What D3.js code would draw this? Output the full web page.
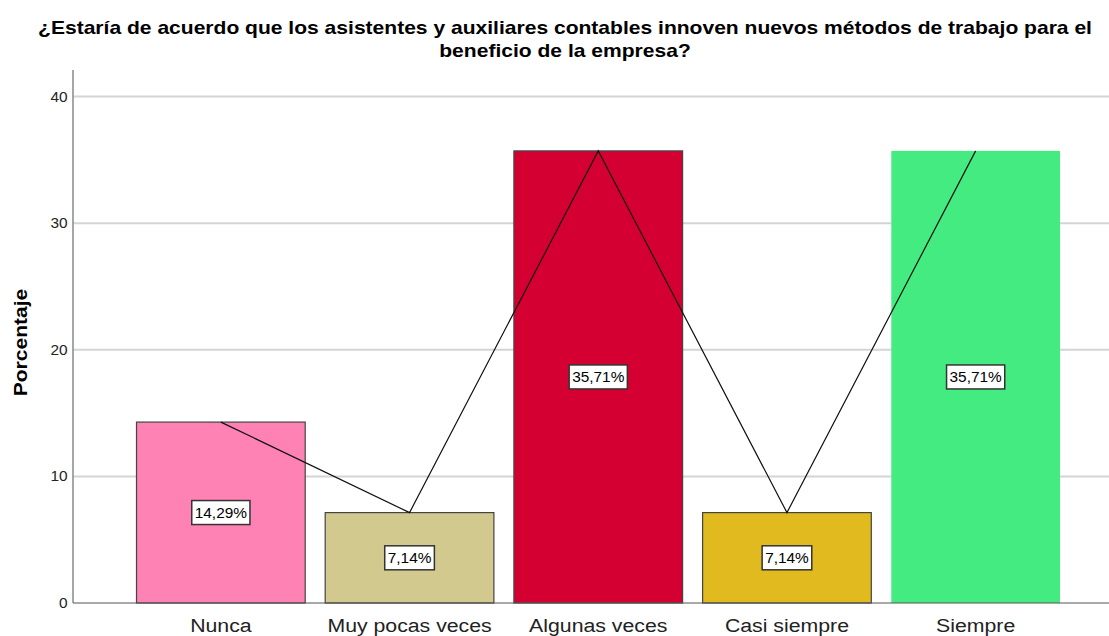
<!DOCTYPE html>
<html>
<head>
<meta charset="utf-8">
<script src="https://cdn.jsdelivr.net/npm/d3@7/dist/d3.min.js"></script>
<style>
  body { margin: 0; background: #fff; }
  text { font-family: "Liberation Sans", Arial, sans-serif; }
</style>
</head>
<body>
<div id="chart"></div>
<script>
var categories = ["Nunca", "Muy pocas veces", "Algunas veces", "Casi siempre", "Siempre"];
var values = [14.29, 7.14, 35.71, 7.14, 35.71];
var valueLabels = ["14,29%", "7,14%", "35,71%", "7,14%", "35,71%"];
var barColors = ["#ff82b4", "#d1c98e", "#d50032", "#e0ba1e", "#44eb80"];
var barStrokes = ["#444", "#444", "#444", "#444", "none"];
var yTicks = [0, 10, 20, 30, 40];
var titleLines = ["¿Estaría de acuerdo que los asistentes y auxiliares contables innoven nuevos métodos de trabajo para el",
                  "beneficio de la empresa?"];

var width = 1109, height = 636;
var axisX = 73, plotRight = 1109, baseY = 603, topY = 70;
var stretch = 1.17; // the source render is a bit wider than tall

var svg = d3.select("#chart").append("svg")
    .attr("width", width)
    .attr("height", height);

var y = d3.scaleLinear()
    .domain([0, 42.1])
    .range([baseY, topY]);

var x = d3.scaleBand()
    .domain(categories)
    .range([126.5, 1070])
    .paddingInner(0.106)
    .paddingOuter(0.053);

// title
svg.append("g").selectAll("text")
    .data(titleLines)
    .enter()
    .append("text")
    .attr("transform", function(d, i) { return "translate(565," + (34 + i * 23) + ") scale(" + stretch + ",1)"; })
    .attr("text-anchor", "middle")
    .style("font-weight", "bold")
    .style("font-size", "18px")
    .style("fill", "#000")
    .text(function(d) { return d; });

// grid lines
svg.append("g").selectAll("line")
    .data(yTicks.slice(1))
    .enter()
    .append("line")
    .attr("x1", axisX)
    .attr("x2", plotRight)
    .attr("y1", function(d) { return y(d); })
    .attr("y2", function(d) { return y(d); })
    .style("stroke", "#d4d4d4")
    .style("stroke-width", 2);

// y axis
var yAxis = svg.append("g")
    .attr("transform", "translate(" + axisX + ",0)")
    .call(d3.axisLeft(y).tickValues(yTicks).tickSize(0).tickPadding(5));
yAxis.select(".domain").remove();
yAxis.selectAll("text")
    .attr("transform", "scale(1.1,1)")
    .style("font-size", "14px")
    .style("fill", "#222")
    .style("font-family", "Liberation Sans, Arial, sans-serif");

svg.append("line")
    .attr("x1", axisX).attr("x2", axisX)
    .attr("y1", topY).attr("y2", baseY)
    .style("stroke", "#888")
    .style("stroke-width", 1.5);

svg.append("text")
    .attr("transform", "translate(27," + ((topY + baseY) / 2 + 6) + ") rotate(-90) scale(" + stretch + ",1)")
    .attr("text-anchor", "middle")
    .style("font-weight", "bold")
    .style("font-size", "18px")
    .text("Porcentaje");

// bars
svg.append("g").selectAll("rect")
    .data(values)
    .enter()
    .append("rect")
    .attr("x", function(d, i) { return x(categories[i]); })
    .attr("y", function(d) { return y(d); })
    .attr("width", x.bandwidth())
    .attr("height", function(d) { return baseY - y(d); })
    .style("fill", function(d, i) { return barColors[i]; })
    .style("stroke", function(d, i) { return barStrokes[i]; })
    .style("stroke-width", 1.2);

// x axis
var xAxis = svg.append("g")
    .attr("transform", "translate(0," + baseY + ")")
    .call(d3.axisBottom(x).tickSize(0).tickPadding(12));
xAxis.select(".domain").remove();
xAxis.selectAll("text")
    .attr("transform", "scale(1.12,1)")
    .style("font-size", "19px")
    .style("fill", "#222")
    .style("font-family", "Liberation Sans, Arial, sans-serif")
    .attr("dy", "0.9em");

svg.append("line")
    .attr("x1", axisX).attr("x2", plotRight)
    .attr("y1", baseY).attr("y2", baseY)
    .style("stroke", "#555")
    .style("stroke-width", 1.2);

// connecting line
var line = d3.line()
    .x(function(d, i) { return x(categories[i]) + x.bandwidth() / 2; })
    .y(function(d) { return y(d); });

svg.append("path")
    .datum(values)
    .attr("d", line)
    .style("fill", "none")
    .style("stroke", "#111")
    .style("stroke-width", 1.2);

// value labels
var labels = svg.append("g").selectAll("g")
    .data(values)
    .enter()
    .append("g")
    .attr("transform", function(d, i) {
        return "translate(" + (x(categories[i]) + x.bandwidth() / 2) + "," + y(d / 2) + ")";
    });

labels.append("text")
    .attr("text-anchor", "middle")
    .attr("dy", "0.36em")
    .attr("transform", "scale(1.1,1)")
    .style("font-size", "14px")
    .style("fill", "#000")
    .text(function(d, i) { return valueLabels[i]; })
    .each(function() {
        var b = this.getBBox();
        var w = b.width * 1.1;
        d3.select(this.parentNode).insert("rect", "text")
            .attr("x", -w / 2 - 3)
            .attr("y", -12)
            .attr("width", w + 6)
            .attr("height", 24)
            .style("fill", "#fff")
            .style("stroke", "#333")
            .style("stroke-width", 1.5);
    });
</script>
</body>
</html>
